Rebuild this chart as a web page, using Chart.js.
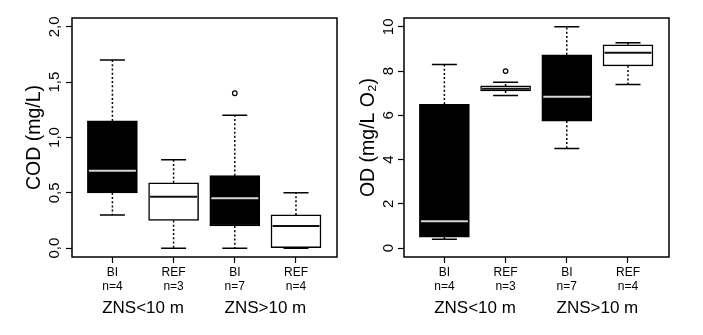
<!DOCTYPE html>
<html>
<head>
<meta charset="utf-8">
<script src="https://cdn.jsdelivr.net/npm/chart.js@4.4.0/dist/chart.umd.min.js"></script>
<style>
  html, body { margin: 0; padding: 0; background: #fff; }
  #wrap { position: relative; width: 703px; height: 335px; }
  canvas { position: absolute; top: 0; }
  #codChart { left: 0; }
  #odChart { left: 352px; }
</style>
</head>
<body>
<div id="wrap">
  <canvas id="codChart" width="352" height="335"></canvas>
  <canvas id="odChart" width="351" height="335"></canvas>
</div>
<script>
// groups along the x axis
const categories = ['BI', 'REF', 'BI', 'REF'];
const sampleSizes = ['n=4', 'n=3', 'n=7', 'n=4'];
const groups = ['ZNS<10 m', 'ZNS>10 m'];

// COD (mg/L) box stats
const codLow = [0.30, 0.00, 0.00, 0.00];
const codQ1 = [0.50, 0.25, 0.20, 0.00];
const codMedian = [0.70, 0.465, 0.45, 0.20];
const codQ3 = [1.15, 0.59, 0.655, 0.30];
const codHigh = [1.70, 0.80, 1.20, 0.50];
const codOutliers = [[], [], [1.40], []];
const codTicks = [0, 0.5, 1, 1.5, 2];
const codTickLabels = ['0,0', '0,5', '1,0', '1,5', '2,0'];

// OD (mg/L O2) box stats
const odLow = [0.40, 6.90, 4.50, 7.40];
const odQ1 = [0.50, 7.10, 5.74, 8.24];
const odMedian = [1.22, 7.20, 6.84, 8.83];
const odQ3 = [6.50, 7.33, 8.74, 9.19];
const odHigh = [8.30, 7.50, 10.00, 9.28];
const odOutliers = [[], [8.0], [], []];
const odTicks = [0, 2, 4, 6, 8, 10];
const odTickLabels = ['0', '2', '4', '6', '8', '10'];

const FONT = 'Liberation Sans, Arial, sans-serif';

// whiskers, caps and medians, placed with the chart's own scales
const boxWhisker = {
  id: 'boxWhisker',
  afterDatasetsDraw(chart, args, opts) {
    const ctx = chart.ctx;
    const y = chart.scales.y;
    const bars = chart.getDatasetMeta(0).data;
    ctx.save();
    bars.forEach((bar, i) => {
      const cx = bar.x;
      const half = bar.width / 2;
      const pLow = y.getPixelForValue(opts.low[i]);
      const pQ1 = y.getPixelForValue(opts.q1[i]);
      const pMed = y.getPixelForValue(opts.median[i]);
      const pQ3 = y.getPixelForValue(opts.q3[i]);
      const pHigh = y.getPixelForValue(opts.high[i]);

      // dotted whiskers
      ctx.strokeStyle = '#000';
      ctx.lineWidth = 1.5;
      ctx.setLineDash([2, 2.2]);
      ctx.beginPath();
      ctx.moveTo(cx, pQ3); ctx.lineTo(cx, pHigh);
      ctx.moveTo(cx, pQ1); ctx.lineTo(cx, pLow);
      ctx.stroke();

      // caps
      ctx.setLineDash([]);
      ctx.beginPath();
      ctx.moveTo(cx - half / 2, pHigh); ctx.lineTo(cx + half / 2, pHigh);
      ctx.moveTo(cx - half / 2, pLow); ctx.lineTo(cx + half / 2, pLow);
      ctx.stroke();

      // median
      ctx.strokeStyle = categories[i] === 'BI' ? '#d6d6d6' : '#111';
      ctx.lineWidth = 2;
      ctx.beginPath();
      ctx.moveTo(cx - half + 1.5, pMed); ctx.lineTo(cx + half - 1.5, pMed);
      ctx.stroke();
    });
    ctx.restore();
  },
  afterDraw(chart) {
    const { ctx, chartArea: a } = chart;
    ctx.save();
    ctx.strokeStyle = '#000';
    ctx.lineWidth = 1.5;
    ctx.strokeRect(a.left, a.top, a.right - a.left, a.bottom - a.top);
    ctx.restore();
  }
};

function makeChart(canvasId, cfg) {
  const positions = categories.map((c, i) => i + 1);
  const groupCenters = groups.map((g, i) => i * 2 + 1.5);
  const outlierPoints = [];
  cfg.outliers.forEach((list, i) => list.forEach(v => outlierPoints.push({ x: positions[i], y: v })));

  return new Chart(document.getElementById(canvasId), {
    type: 'bar',
    data: {
      datasets: [
        {
          data: positions.map((p, i) => ({ x: p, y: [cfg.q1[i], cfg.q3[i]] })),
          backgroundColor: categories.map(c => c === 'BI' ? '#000' : '#fff'),
          borderColor: '#000',
          borderWidth: 1.5,
          borderSkipped: false,
          barThickness: 50,
          order: 2
        },
        {
          type: 'scatter',
          data: outlierPoints,
          pointRadius: 2.3,
          pointBorderWidth: 1.2,
          borderColor: '#000',
          backgroundColor: '#fff',
          order: 1
        }
      ]
    },
    options: {
      responsive: false,
      animation: false,
      layout: { padding: { left: 0, top: 18, right: cfg.padRight, bottom: 0 } },
      plugins: {
        legend: { display: false },
        tooltip: { enabled: false },
        boxWhisker: { low: cfg.low, q1: cfg.q1, median: cfg.median, q3: cfg.q3, high: cfg.high }
      },
      scales: {
        x: {
          type: 'linear',
          min: 0.34,
          max: 4.67,
          offset: false,
          weight: 0,
          afterBuildTicks: s => { s.ticks = positions.map(v => ({ value: v })); },
          afterFit: s => { s.height = 33; },
          grid: { offset: false, drawOnChartArea: false, tickLength: 6, tickColor: '#000', tickWidth: 1.2 },
          border: { display: false },
          ticks: {
            callback: (v, i) => [categories[i], sampleSizes[i]],
            autoSkip: false, maxRotation: 0, padding: 2,
            color: '#000', font: { family: FONT, size: 12 }
          }
        },
        x2: {
          type: 'linear',
          position: 'bottom',
          min: 0.34,
          max: 4.67,
          offset: false,
          weight: 1,
          afterBuildTicks: s => { s.ticks = groupCenters.map(v => ({ value: v })); },
          afterFit: s => { s.height = 45; },
          grid: { display: false },
          border: { display: false },
          ticks: {
            callback: (v, i) => groups[i],
            autoSkip: false, maxRotation: 0, padding: 0,
            color: '#000', font: { family: FONT, size: 17 }
          }
        },
        y: {
          min: cfg.yMin,
          max: cfg.yMax,
          afterBuildTicks: s => { s.ticks = cfg.ticks.map(v => ({ value: v })); },
          afterFit: s => { s.width = cfg.axisWidth; },
          grid: { drawOnChartArea: false, tickLength: 6, tickColor: '#000', tickWidth: 1.2 },
          border: { display: false },
          title: {
            display: true,
            text: cfg.title,
            color: '#000',
            font: { family: FONT, size: 19.5 },
            padding: { top: cfg.titlePad, bottom: 0 }
          },
          ticks: {
            callback: (v, i) => cfg.tickLabels[i],
            minRotation: 90, maxRotation: 90,
            crossAlign: 'center', padding: 1,
            color: '#000', font: { family: FONT, size: 15 }
          }
        }
      }
    },
    plugins: [boxWhisker]
  });
}

makeChart('codChart', {
  low: codLow, q1: codQ1, median: codMedian, q3: codQ3, high: codHigh, outliers: codOutliers,
  ticks: codTicks, tickLabels: codTickLabels, yMin: -0.08, yMax: 2.08,
  title: 'COD (mg/L)', axisWidth: 72, titlePad: 23, padRight: 15
});

makeChart('odChart', {
  low: odLow, q1: odQ1, median: odMedian, q3: odQ3, high: odHigh, outliers: odOutliers,
  ticks: odTicks, tickLabels: odTickLabels, yMin: -0.4, yMax: 10.4,
  title: 'OD (mg/L O\u2082)', axisWidth: 52, titlePad: 5, padRight: 34
});
</script>
</body>
</html>
